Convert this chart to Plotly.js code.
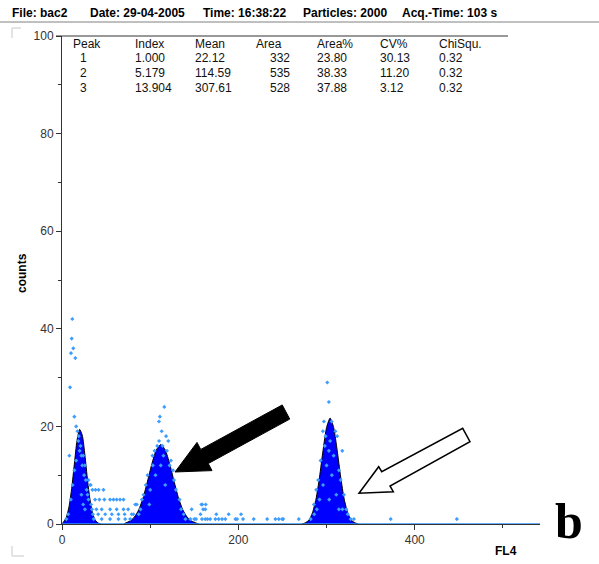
<!DOCTYPE html>
<html><head><meta charset="utf-8">
<script src="https://cdn.plot.ly/plotly-3.0.1.min.js"></script>
<style>html,body{margin:0;padding:0;background:#fff}#chart{width:599px;height:564px}</style>
</head><body><div id="chart"></div>
<script>
// ---- data ----
const headerFields = ["File: bac2", "Date: 29-04-2005", "Time: 16:38:22", "Particles: 2000", "Acq.-Time: 103 s"];
const tableHeaders = ["Peak", "Index", "Mean", "Area", "Area%", "CV%", "ChiSqu."];
const peakNums = ["1", "2", "3"];
const peakIndex = ["1.000", "5.179", "13.904"];
const peakMean = ["22.12", "114.59", "307.61"];
const peakArea = ["332", "535", "528"];
const peakAreaPct = ["23.80", "38.33", "37.88"];
const peakCV = ["30.13", "11.20", "3.12"];
const peakChi = ["0.32", "0.32", "0.32"];

const xTickVals = [0, 200, 400];
const yTickVals = [0, 20, 40, 60, 80, 100];

// fitted peak curves (FL4 channel, counts)
const peak1X = [0, 2, 5, 8, 11, 14, 17, 20, 23, 26, 29, 32, 35, 38, 41, 44];
const peak1Y = [0, 0.5, 1.4, 3.6, 7.3, 12.3, 17.1, 19.4, 18.2, 14.1, 8.9, 4.7, 2.0, 0.7, 0.2, 0];
const peak2X = [70, 72, 77, 82, 87, 92, 97, 102, 107, 112, 117, 122, 127, 132, 137, 142, 147, 152, 155];
const peak2Y = [0, 0.2, 0.6, 1.4, 2.9, 5.4, 8.8, 12.4, 15.2, 16.3, 15.2, 12.4, 8.8, 5.4, 2.9, 1.4, 0.6, 0.2, 0];
const peak3X = [272, 276, 280, 284, 288, 292, 296, 300, 304, 308, 312, 316, 320, 324, 328, 332, 336];
const peak3Y = [0, 0.26, 0.8, 2.3, 5.1, 9.6, 15.1, 19.8, 21.7, 19.8, 15.1, 9.6, 5.1, 2.3, 0.8, 0.26, 0];

// zero-count channels
const zeroX = [0, 542];
const zeroY = [0, 0];

// raw histogram points
const dotX = [11.7, 11, 12.8, 10.2, 15.1, 9.1, 14, 16, 8.3, 18.5, 17.5, 19, 21, 20, 22, 24, 23, 26, 25, 27, 30, 31.8, 32.6, 22, 28, 24, 26, 29, 30, 33, 34, 35, 36, 5, 7, 10, 12, 14, 16,
  34.5, 38, 41.5, 47,
  37.5, 42.4, 48, 54.5, 58.3, 62, 65.8, 69.7,
  39, 45, 54.5, 62, 69.7, 75,
  41, 49, 56.5, 64, 71, 79,
  45, 54.5, 64, 71.6, 77.3,
  116, 111, 110, 113, 118, 120.5, 110, 102.6, 115, 123.5, 125.8, 127, 129.2, 133.3, 100, 92.4, 90.6, 84.9, 83, 81,
  105, 108, 114, 119, 122, 97, 95, 103, 106, 117, 112, 99, 89, 87, 135, 138, 140,
  147, 158, 160, 157, 145.5, 162.5, 162.5, 175, 189, 203, 159, 163,
  158.7, 173.9, 177.6, 181.5, 185.2, 196.6, 198.5, 205.3, 217.4, 232.6, 242, 245.8, 249.6, 268.5, 150, 152, 165, 168,
  300.8, 302.6, 297, 305.7, 295.8, 310, 312, 298.9, 298, 317.8, 302.6, 293.2, 314, 290.5, 316, 288.3, 319.7, 285.6, 322.4, 327.3, 331, 282,
  300, 304, 306, 308, 296, 292, 311, 303, 318, 286, 324, 289, 314, 372.7, 447.7, 250.8];
const dotY = [42, 38, 36, 35, 34, 28, 22, 20, 14, 17, 19, 18, 16, 15, 14, 14, 12, 12, 10, 9, 9, 8, 8, 6, 7, 4, 3, 6, 5, 4, 3, 2, 1, 1, 2, 5, 8, 11, 13,
  7, 7, 7, 7,
  5, 5, 5, 5, 5, 5, 5, 5,
  3, 3, 3, 3, 3, 3,
  2, 2, 2, 2, 2, 2,
  1, 1, 1, 1, 1,
  24, 22, 21, 19, 18, 17, 17, 14, 14, 13, 11, 9, 7, 5, 7, 6, 5, 4, 4, 2,
  15, 16, 16, 15, 12, 10, 8, 12, 10, 8, 12, 4, 3, 2, 3, 2, 1,
  3, 4, 3, 2, 1, 1, 3, 2, 2, 2, 4, 4,
  1, 1, 1, 1, 1, 1, 1, 1, 1, 1, 1, 1, 1, 1, 1, 1, 1, 1,
  29, 25, 21, 21, 19, 19, 18, 18, 16, 15, 15, 13, 11, 9, 9, 7, 6, 4, 3, 1, 1, 1,
  12, 17, 10, 14, 8, 5, 6, 5, 3, 2, 2, 3, 3, 1, 1, 1];

// ---- geometry helpers (layout only) ----
const L = 62, R = 59, T = 36, B = 40, W = 599, H = 564;
const PW = W - L - R, PH = H - T - B;
const XMAX = 542, YMAX = 100;
const px = p => (p - L) / PW;
const py = p => (H - B - p) / PH;
const dx = p => (p - L) / PW * XMAX;
const dy = p => (H - B - p) / PH * YMAX;
const pathFrom = pts => 'M ' + pts.map(q => dx(q[0]).toFixed(2) + ',' + dy(q[1]).toFixed(2)).join(' L ') + ' Z';

const FONT = '"Liberation Sans", Arial, sans-serif';

const fillTrace = (x, y) => ({
  x: x, y: y, type: 'scatter', mode: 'lines', fill: 'tozeroy',
  fillcolor: '#0000ff', line: {color: '#000000', width: 1, shape: 'spline', smoothing: 0.6},
  hoverinfo: 'skip'
});

const data = [
  fillTrace(peak1X, peak1Y),
  fillTrace(peak2X, peak2Y),
  fillTrace(peak3X, peak3Y),
  {x: zeroX, y: zeroY, type: 'scatter', mode: 'lines', line: {color: '#3394ff', width: 1.5}, cliponaxis: false},
  {x: dotX, y: dotY, type: 'scatter', mode: 'markers',
   marker: {symbol: 'diamond', size: 3.2, color: '#3d9dff', line: {width: 0}}}
];

const ann = [];
const hdrLeft = [10, 88, 201, 301, 400];
headerFields.forEach((t, i) => ann.push({
  text: t, xref: 'paper', yref: 'paper', x: px(hdrLeft[i]), y: py(13), xanchor: 'left', yanchor: 'middle',
  showarrow: false, font: {family: FONT, size: 12, color: '#000', weight: 'bold'}
}));
const colLeft = [71, 133, 193, 254, 315, 378, 437];
const rowY = [58.5, 73, 87.5];
tableHeaders.forEach((t, i) => ann.push({
  text: t, xref: 'paper', yref: 'paper', x: px(colLeft[i]), y: py(44), xanchor: 'left', yanchor: 'middle',
  showarrow: false, font: {family: FONT, size: 12, color: '#111'}
}));
const cols = [peakNums, peakIndex, peakMean, peakArea, peakAreaPct, peakCV, peakChi];
const cellX = [78, 133, 193, 292, 315, 378, 437];
cols.forEach((col, c) => col.forEach((v, r) => ann.push({
  text: v, xref: 'paper', yref: 'paper', x: px(cellX[c]), y: py(rowY[r]),
  xanchor: c === 3 ? 'right' : 'left', yanchor: 'middle', showarrow: false,
  font: {family: FONT, size: 12, color: '#111'}
})));
ann.push({text: 'counts', xref: 'paper', yref: 'paper', x: px(22), y: py(273), textangle: -90,
  xanchor: 'center', yanchor: 'middle', showarrow: false, font: {family: FONT, size: 12, color: '#000', weight: 'bold'}});
ann.push({text: 'FL4', xref: 'paper', yref: 'paper', x: px(493), y: py(551), xanchor: 'left', yanchor: 'middle',
  showarrow: false, font: {family: FONT, size: 12, color: '#000', weight: 'bold'}});
ann.push({text: 'b', xref: 'paper', yref: 'paper', x: px(569), y: py(521), xanchor: 'center', yanchor: 'middle',
  showarrow: false, font: {family: '"Liberation Serif", "Times New Roman", serif', size: 50, color: '#000', weight: 'bold'}});

const lineShape = (x0, y0, x1, y1, color) => ({type: 'line', xref: 'paper', yref: 'paper',
  x0: px(x0), y0: py(y0), x1: px(x1), y1: py(y1), line: {color: color, width: 1}});

const blackArrow = [[282.25, 404.94], [200.75, 449.44], [197, 442.4], [175, 472], [212, 470.6], [208.25, 463.56], [289.75, 419.06]];
const whiteArrow = [[359, 493.3], [378.7, 466.7], [381.7, 471.7], [462.7, 428.3], [470, 441.7], [390, 486], [393.3, 491.7]];

const shapes = [
  lineShape(0, 22, 599, 22, '#808080'),
  lineShape(56, 36, 508, 36, '#333'),
  lineShape(12, 38, 12, 28, '#c8c8c8'),
  lineShape(12, 28, 21, 28, '#c8c8c8'),
  lineShape(12, 546, 12, 556, '#c8c8c8'),
  lineShape(12, 556, 24, 556, '#c8c8c8'),
  {type: 'path', xref: 'x', yref: 'y', path: pathFrom(blackArrow), fillcolor: '#000', line: {color: '#000', width: 1}},
  {type: 'path', xref: 'x', yref: 'y', path: pathFrom(whiteArrow), fillcolor: '#fff', line: {color: '#000', width: 1.5}}
];

const axisCommon = {
  showgrid: false, zeroline: false, showline: true, linecolor: '#333', linewidth: 1,
  ticks: 'outside', ticklen: 5, tickcolor: '#333', tickwidth: 1,
  tickfont: {family: FONT, size: 12, color: '#333'}, fixedrange: true
};

const layout = {
  width: W, height: H, margin: {l: L, r: R, t: T, b: B, pad: 0},
  paper_bgcolor: '#fff', plot_bgcolor: '#fff', showlegend: false,
  xaxis: Object.assign({}, axisCommon, {range: [0, XMAX], tickmode: 'array', tickvals: xTickVals,
    ticktext: xTickVals.map(String), minor: {dtick: 100, tick0: 0, ticks: 'outside', ticklen: 3, tickcolor: '#333'}}),
  yaxis: Object.assign({}, axisCommon, {range: [0, YMAX], tickmode: 'array', tickvals: yTickVals,
    ticktext: yTickVals.map(String), minor: {dtick: 10, tick0: 0, ticks: 'outside', ticklen: 3, tickcolor: '#333'}}),
  annotations: ann,
  shapes: shapes
};

Plotly.newPlot('chart', data, layout, {staticPlot: true, displayModeBar: false});
</script></body></html>
